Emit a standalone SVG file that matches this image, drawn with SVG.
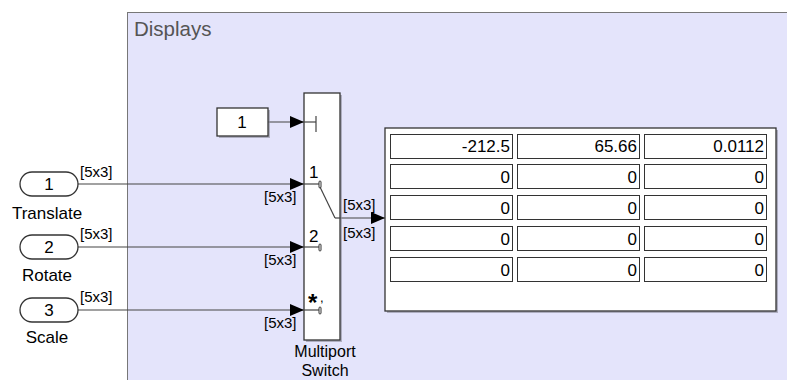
<svg xmlns="http://www.w3.org/2000/svg" width="787" height="380" viewBox="0 0 787 380">
<defs>
<style>
text{font-family:"Liberation Sans",Arial,sans-serif;fill:#000}
.blk{fill:#fff;stroke:#333;stroke-width:1.3}
.shadow{fill:#8a8a9a;opacity:0.6}
.ln{stroke:#444;stroke-width:1.2;fill:none}
.sig{font-size:15px}
.lbl{font-size:17px;text-anchor:middle}
.port{font-size:17px}
.tick{fill:#fff;stroke:#333;stroke-width:1}
.cell{fill:#fff;stroke:#333;stroke-width:1}
.num{font-size:17px;text-anchor:end}
</style>
<marker id="arr" markerWidth="14" markerHeight="12" refX="14" refY="6" orient="auto" markerUnits="userSpaceOnUse">
<path d="M0,0 L14,6 L0,12 z" fill="#000"/>
</marker>
</defs>
<rect width="787" height="380" fill="#fff"/>
<g id="area">
<rect x="127.5" y="12.5" width="670" height="380" fill="#e4e4fb" stroke="#777" stroke-width="1"/>
<text x="134" y="36" style="font-size:20.5px;fill:#555">Displays</text>
</g>
<g id="connectors">
<line class="ln" x1="78" y1="184" x2="304" y2="184" marker-end="url(#arr)"/>
<line class="ln" x1="78" y1="247" x2="304" y2="247" marker-end="url(#arr)"/>
<line class="ln" x1="78" y1="310" x2="304" y2="310" marker-end="url(#arr)"/>
<line class="ln" x1="268" y1="122" x2="304" y2="122" marker-end="url(#arr)"/>
<line class="ln" x1="340" y1="218" x2="385" y2="218" marker-end="url(#arr)"/>
<text class="sig" x="80" y="177">[5x3]</text>
<text class="sig" x="80" y="239">[5x3]</text>
<text class="sig" x="80" y="302">[5x3]</text>
<text class="sig" x="264" y="202">[5x3]</text>
<text class="sig" x="264" y="265">[5x3]</text>
<text class="sig" x="264" y="328">[5x3]</text>
<text class="sig" x="343" y="210">[5x3]</text>
<text class="sig" x="343" y="238">[5x3]</text>
</g>
<g id="in1">
<rect x="20" y="172" width="58" height="24" rx="12" class="blk"/>
<text class="lbl" x="49" y="190">1</text>
<text class="lbl" x="47" y="219">Translate</text>
</g>
<g id="in2">
<rect x="20" y="235" width="58" height="24" rx="12" class="blk"/>
<text class="lbl" x="49" y="253">2</text>
<text class="lbl" x="47" y="281">Rotate</text>
</g>
<g id="in3">
<rect x="20" y="298" width="58" height="24" rx="12" class="blk"/>
<text class="lbl" x="49" y="316">3</text>
<text class="lbl" x="47" y="343">Scale</text>
</g>
<g id="const">
<rect x="219" y="110" width="51" height="28" class="shadow"/>
<rect x="217" y="108" width="51" height="28" class="blk"/>
<text class="lbl" x="242" y="128">1</text>
</g>
<g id="switch">
<rect x="306" y="95" width="36" height="247" class="shadow"/>
<rect x="304" y="93" width="36" height="247" class="blk"/>
<line class="ln" x1="304" y1="122" x2="316" y2="122"/>
<line class="ln" x1="316" y1="116" x2="316" y2="132"/>
<line class="ln" x1="304" y1="184" x2="320" y2="184"/>
<rect class="tick" x="319" y="181" width="2" height="7" rx="1"/>
<line class="ln" x1="320" y1="187" x2="335" y2="218"/>
<line class="ln" x1="335" y1="218" x2="340" y2="218"/>
<line class="ln" x1="304" y1="247" x2="320" y2="247"/>
<rect class="tick" x="319" y="244" width="2" height="7" rx="1"/>
<line class="ln" x1="304" y1="310" x2="320" y2="310"/>
<rect class="tick" x="319" y="307" width="2" height="7" rx="1"/>
<text class="port" x="309" y="178">1</text>
<text class="port" x="309" y="242">2</text>
<text x="308" y="311" style="font-size:24px;font-weight:bold">*</text>
<text x="320" y="302" style="font-size:13px">,</text>
<text x="325" y="357" style="font-size:16px;text-anchor:middle">Multiport</text>
<text x="325" y="376" style="font-size:16px;text-anchor:middle">Switch</text>
</g>
<g id="display">
<rect x="387" y="130" width="391" height="183" class="shadow"/>
<rect x="385" y="128" width="391" height="183" class="blk"/>
<g>
<rect class="cell" x="390.5" y="134.5" width="122" height="24"/>
<rect class="cell" x="517.5" y="134.5" width="122" height="24"/>
<rect class="cell" x="644.5" y="134.5" width="122" height="24"/>
<rect class="cell" x="390.5" y="164.5" width="122" height="24"/>
<rect class="cell" x="517.5" y="164.5" width="122" height="24"/>
<rect class="cell" x="644.5" y="164.5" width="122" height="24"/>
<rect class="cell" x="390.5" y="195.5" width="122" height="24"/>
<rect class="cell" x="517.5" y="195.5" width="122" height="24"/>
<rect class="cell" x="644.5" y="195.5" width="122" height="24"/>
<rect class="cell" x="390.5" y="226.5" width="122" height="24"/>
<rect class="cell" x="517.5" y="226.5" width="122" height="24"/>
<rect class="cell" x="644.5" y="226.5" width="122" height="24"/>
<rect class="cell" x="390.5" y="257.5" width="122" height="24"/>
<rect class="cell" x="517.5" y="257.5" width="122" height="24"/>
<rect class="cell" x="644.5" y="257.5" width="122" height="24"/>
</g>
<text class="num" x="510" y="152">-212.5</text>
<text class="num" x="637" y="152">65.66</text>
<text class="num" x="764" y="152">0.0112</text>
<text class="num" x="510" y="183">0</text>
<text class="num" x="637" y="183">0</text>
<text class="num" x="764" y="183">0</text>
<text class="num" x="510" y="214">0</text>
<text class="num" x="637" y="214">0</text>
<text class="num" x="764" y="214">0</text>
<text class="num" x="510" y="245">0</text>
<text class="num" x="637" y="245">0</text>
<text class="num" x="764" y="245">0</text>
<text class="num" x="510" y="276">0</text>
<text class="num" x="637" y="276">0</text>
<text class="num" x="764" y="276">0</text>
</g>
</svg>
